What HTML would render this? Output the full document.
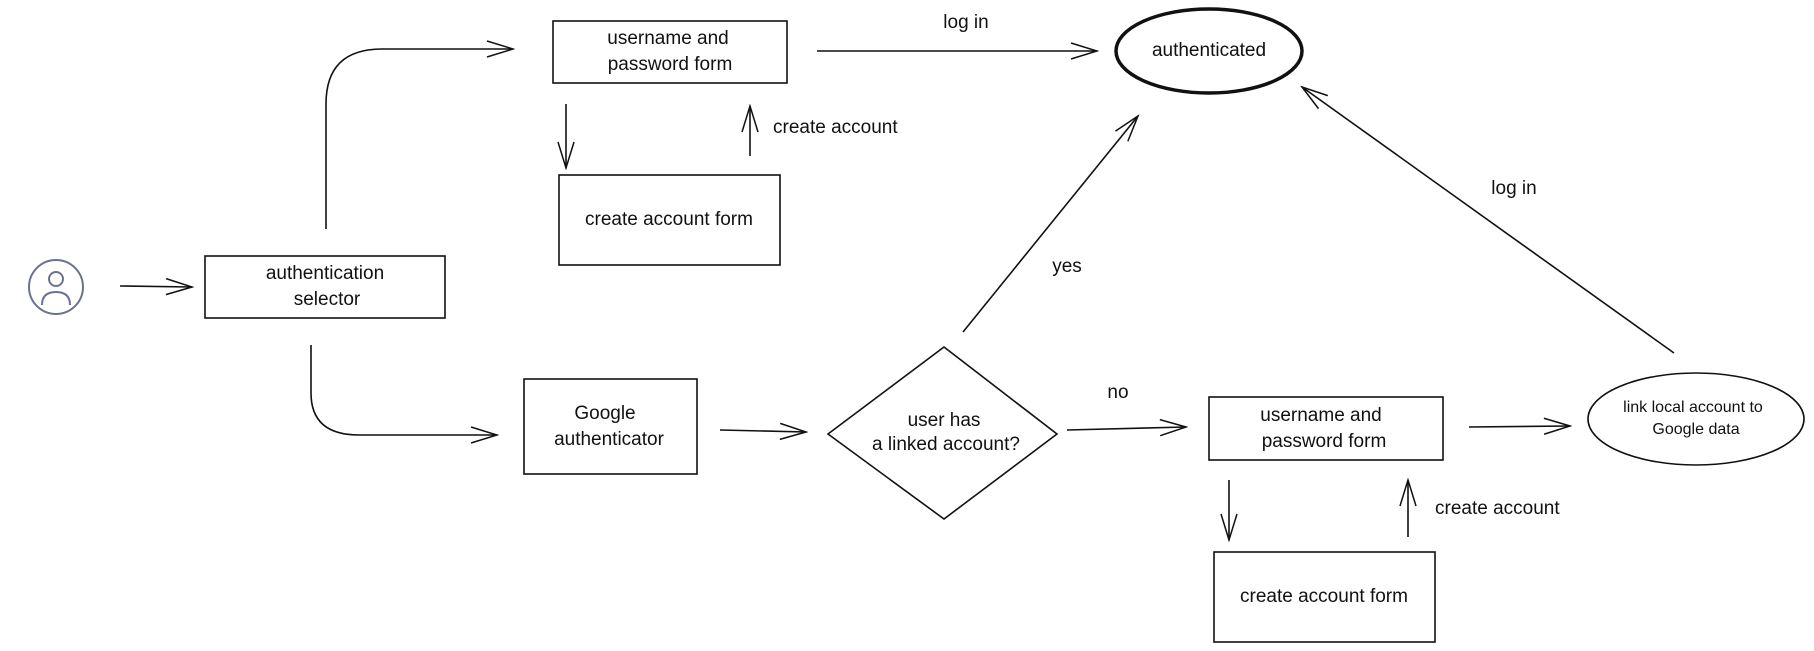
<!DOCTYPE html>
<html><head><meta charset="utf-8"><style>
html,body{margin:0;padding:0;background:#fff;}
svg{display:block;}
text{font-family:"Liberation Sans",sans-serif;font-size:19px;fill:#111;text-anchor:middle;dominant-baseline:middle;}
</style></head><body>
<svg width="1814" height="651" viewBox="0 0 1814 651" xmlns="http://www.w3.org/2000/svg">
<defs>
<marker id="a" markerWidth="30" markerHeight="20" refX="28" refY="10" orient="auto" markerUnits="userSpaceOnUse">
<path d="M2 2 L28 10 L2 18" fill="none" stroke="#111" stroke-width="1.5"/>
</marker>
</defs>
<g fill="none" stroke="#111" stroke-width="1.6">
<!-- user icon -->
<circle cx="56" cy="287" r="27" stroke="#6b7290" stroke-width="2"/>
<circle cx="56" cy="279" r="7" stroke="#6b7290" stroke-width="2"/>
<path d="M42 305 Q42 292 56 292 Q70 292 70 305" stroke="#6b7290" stroke-width="2"/>
<line x1="120" y1="286" x2="192" y2="287" marker-end="url(#a)"/>
<rect x="205" y="256" width="240" height="62"/>
<path d="M326 229 L326 104 Q326 49 382 49 L513 49" marker-end="url(#a)"/>
<rect x="553" y="21" width="234" height="62"/>
<line x1="817" y1="51" x2="1097" y2="51" marker-end="url(#a)"/>
<ellipse cx="1209" cy="51" rx="93" ry="42" stroke-width="3.5"/>
<line x1="566" y1="104" x2="566" y2="168" marker-end="url(#a)"/>
<line x1="750" y1="156" x2="750" y2="106" marker-end="url(#a)"/>
<rect x="559" y="175" width="221" height="90"/>
<path d="M311 345 L311 393 Q311 435 359 435 L497 435" marker-end="url(#a)"/>
<rect x="524" y="379" width="173" height="95"/>
<line x1="720" y1="430" x2="806" y2="432" marker-end="url(#a)"/>
<path d="M828 434 L944 347 L1057 434 L944 519 Z"/>
<line x1="963" y1="332" x2="1138" y2="116" marker-end="url(#a)"/>
<line x1="1067" y1="430" x2="1186" y2="427" marker-end="url(#a)"/>
<rect x="1209" y="397" width="234" height="63"/>
<line x1="1469" y1="427" x2="1570" y2="426" marker-end="url(#a)"/>
<ellipse cx="1696" cy="419" rx="108" ry="46"/>
<line x1="1674" y1="353" x2="1302" y2="87" marker-end="url(#a)"/>
<line x1="1229" y1="480" x2="1229" y2="540" marker-end="url(#a)"/>
<line x1="1408" y1="537" x2="1408" y2="480" marker-end="url(#a)"/>
<rect x="1214" y="552" width="221" height="90"/>
</g>
<text x="325" y="274">authentication</text>
<text x="327" y="300">selector</text>
<text x="668" y="39">username and</text>
<text x="670" y="65">password form</text>
<text x="966" y="23">log in</text>
<text x="1209" y="51">authenticated</text>
<text x="773" y="128" style="text-anchor:start">create account</text>
<text x="669" y="220">create account form</text>
<text x="605" y="414">Google</text>
<text x="609" y="440">authenticator</text>
<text x="944" y="421">user has</text>
<text x="946" y="445">a linked account?</text>
<text x="1067" y="267">yes</text>
<text x="1118" y="393">no</text>
<text x="1321" y="416">username and</text>
<text x="1324" y="442">password form</text>
<text x="1693" y="408" style="font-size:16px">link local account to</text>
<text x="1696" y="430" style="font-size:16px">Google data</text>
<text x="1514" y="189">log in</text>
<text x="1435" y="509" style="text-anchor:start">create account</text>
<text x="1324" y="597">create account form</text>
</svg>
</body></html>
